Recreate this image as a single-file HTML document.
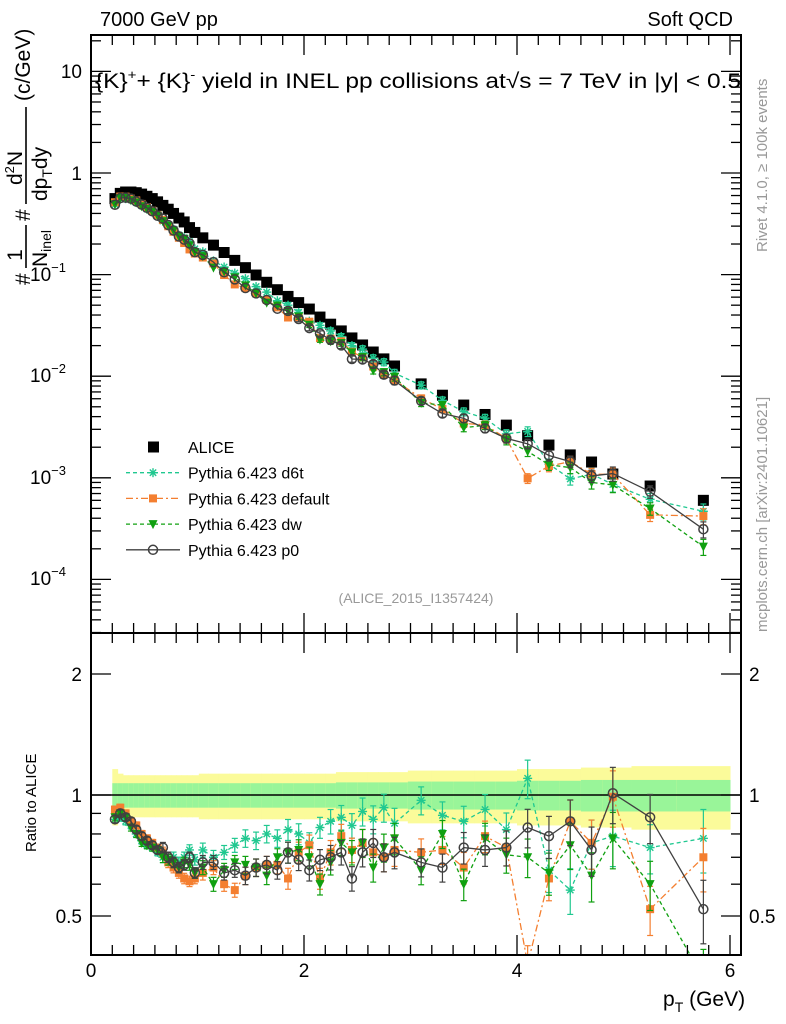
<!DOCTYPE html>
<html><head><meta charset="utf-8"><style>
body{margin:0;background:#fff}
svg{display:block;font-family:"Liberation Sans",sans-serif}
</style></head><body>
<svg id="c" width="786" height="1024" viewBox="0 0 786 1024"></svg>
<script>
const xs=[0.225,0.275,0.325,0.375,0.425,0.475,0.525,0.575,0.625,0.675,0.725,0.775,0.825,0.875,0.925,0.975,
1.05,1.15,1.25,1.35,1.45,1.55,1.65,1.75,1.85,1.95,2.05,2.15,2.25,2.35,2.45,2.55,2.65,2.75,2.85,
3.1,3.3,3.5,3.7,3.9,4.1,4.3,4.5,4.7,4.9,5.25,5.75];
const alice=[0.56,0.63,0.65,0.65,0.64,0.62,0.59,0.56,0.52,0.48,0.44,0.40,0.36,0.33,0.29,0.26,
0.23,0.195,0.165,0.138,0.117,0.099,0.084,0.071,0.061,0.053,0.0458,0.0382,0.0325,0.0279,0.0238,0.0203,0.0173,0.0148,0.0126,
0.0084,0.0065,0.0052,0.0042,0.0033,0.0026,0.0021,0.00168,0.00143,0.00109,0.00083,0.00060];
const rD6t=[0.87,0.88,0.86,0.84,0.80,0.77,0.75,0.74,0.72,0.70,0.69,0.70,0.68,0.70,0.73,0.69,
0.73,0.70,0.72,0.75,0.78,0.77,0.80,0.78,0.82,0.80,0.76,0.83,0.86,0.88,0.84,0.91,0.87,0.93,0.85,
0.97,0.89,0.86,0.92,0.82,1.10,0.65,0.58,0.76,0.79,0.74,0.78];
const rDef=[0.92,0.93,0.90,0.86,0.84,0.80,0.78,0.76,0.74,0.72,0.68,0.66,0.64,0.62,0.61,0.62,
0.64,0.66,0.60,0.58,0.63,0.66,0.67,0.67,0.62,0.72,0.75,0.62,0.72,0.79,0.73,0.76,0.72,0.70,0.73,
0.72,0.73,0.66,0.79,0.74,0.38,0.62,0.86,0.76,0.99,0.52,0.70];
const rDw=[0.88,0.90,0.88,0.83,0.80,0.76,0.75,0.74,0.73,0.70,0.69,0.68,0.66,0.68,0.67,0.64,
0.66,0.60,0.65,0.68,0.67,0.66,0.63,0.70,0.72,0.73,0.70,0.60,0.68,0.76,0.72,0.76,0.66,0.74,0.78,
0.65,0.80,0.60,0.78,0.71,0.70,0.64,0.75,0.63,0.78,0.60,0.35];
const rP0=[0.87,0.90,0.88,0.86,0.82,0.79,0.77,0.75,0.73,0.74,0.70,0.68,0.66,0.67,0.70,0.64,
0.68,0.68,0.64,0.65,0.63,0.66,0.67,0.65,0.72,0.69,0.65,0.69,0.70,0.72,0.62,0.72,0.76,0.70,0.72,
0.68,0.66,0.74,0.73,0.74,0.83,0.79,0.86,0.73,1.01,0.88,0.52];
const errRel=[0.02,0.02,0.02,0.02,0.02,0.02,0.02,0.02,0.02,0.03,0.03,0.03,0.03,0.03,0.03,0.03,
0.04,0.04,0.04,0.04,0.05,0.05,0.05,0.05,0.06,0.06,0.06,0.06,0.07,0.07,0.07,0.08,0.08,0.08,0.09,
0.08,0.08,0.09,0.09,0.1,0.11,0.12,0.13,0.14,0.16,0.14,0.18];
const bandG=[0.07,0.07,0.07,0.07,0.07,0.07,0.07,0.07,0.07,0.07,0.07,0.07,0.07,0.07,0.07,0.07,
0.07,0.07,0.07,0.07,0.07,0.07,0.07,0.07,0.07,0.07,0.07,0.07,0.07,0.075,0.075,0.075,0.075,0.075,0.075,
0.08,0.08,0.08,0.08,0.08,0.085,0.085,0.085,0.09,0.09,0.09,0.09];
const bandY=[0.16,0.13,0.12,0.12,0.12,0.12,0.12,0.12,0.12,0.12,0.12,0.12,0.12,0.12,0.12,0.12,
0.13,0.13,0.13,0.13,0.13,0.13,0.13,0.13,0.13,0.13,0.13,0.13,0.13,0.14,0.14,0.14,0.14,0.14,0.14,
0.15,0.15,0.15,0.15,0.15,0.16,0.16,0.16,0.17,0.17,0.18,0.18];

const NS="http://www.w3.org/2000/svg",svg=document.getElementById('c');
function el(t,a,p){const e=document.createElementNS(NS,t);for(const k in a)e.setAttribute(k,a[k]);(p||svg).appendChild(e);return e;}
const X0=91,X1=741,PX=106.5;
const sx=v=>X0+v*PX;
const sy=v=>173-Math.log10(v)*101.6;
const ry=v=>795-Math.log10(v)*402;
const T1=35,B1=633,B2=955;

const defs=el('defs',{});
const c1=el('clipPath',{id:'cm'},defs);el('rect',{x:X0,y:T1,width:X1-X0,height:B1-T1},c1);
const c2=el('clipPath',{id:'cr'},defs);el('rect',{x:X0,y:B1,width:X1-X0,height:B2-B1},c2);

const gb=el('g',{'clip-path':'url(#cr)'});


for(let i=0;i<xs.length;i++){
 const l=i==0?0.2:(xs[i-1]+xs[i])/2, r=i==xs.length-1?6.0:(xs[i]+xs[i+1])/2;
 el('rect',{x:sx(l),y:ry(1+bandY[i]),width:sx(r)-sx(l)+0.5,height:ry(1-bandY[i])-ry(1+bandY[i]),fill:'#fbfb9a'},gb);
 el('rect',{x:sx(l),y:ry(1+bandG[i]),width:sx(r)-sx(l)+0.5,height:ry(1-bandG[i])-ry(1+bandG[i]),fill:'#99f599'},gb);
}
el('line',{x1:X0,x2:X1,y1:ry(1),y2:ry(1),stroke:'#000','stroke-width':1.5});

const series=[
 {n:'d6t',r:rD6t,c:'#20c890',dash:'4,3',m:'star'},
 {n:'default',r:rDef,c:'#f47f30',dash:'7,3,2,3',m:'sq'},
 {n:'dw',r:rDw,c:'#10a010',dash:'4,3',m:'tri'},
 {n:'p0',r:rP0,c:'#404040',dash:'',m:'circ'}];

function marker(g,m,x,y,c){
 if(m=='sq')el('rect',{x:x-4,y:y-4,width:8,height:8,fill:c},g);
 else if(m=='tri')el('path',{d:`M${x-4.5},${y-4}L${x+4.5},${y-4}L${x},${y+5}Z`,fill:c},g);
 else if(m=='circ')el('circle',{cx:x,cy:y,r:4.5,fill:'none',stroke:c,'stroke-width':1.5},g);
 else{for(const a of [0,45,90,135]){const t=a*Math.PI/180;el('line',{x1:x-4.5*Math.cos(t),y1:y-4.5*Math.sin(t),x2:x+4.5*Math.cos(t),y2:y+4.5*Math.sin(t),stroke:c,'stroke-width':1.4},g);}}
}
function ebar(g,x,y1,y2,c){el('line',{x1:x,x2:x,y1:y1,y2:y2,stroke:c,'stroke-width':1.2},g);
 el('line',{x1:x-3,x2:x+3,y1:y1,y2:y1,stroke:c,'stroke-width':1.2},g);el('line',{x1:x-3,x2:x+3,y1:y2,y2:y2,stroke:c,'stroke-width':1.2},g);}

const ga=el('g',{'clip-path':'url(#cm)'});


xs.forEach((x,i)=>el('rect',{x:sx(x)-5.5,y:sy(alice[i])-5.5,width:11,height:11,fill:'#000'},ga));

series.forEach(s=>{
 const g=el('g',{'clip-path':'url(#cm)'});
 
 
 const pts=xs.map((x,i)=>[sx(x),sy(alice[i]*s.r[i])]);
 el('polyline',{points:pts.map(p=>p.join(',')).join(' '),fill:'none',stroke:s.c,'stroke-width':1.3,'stroke-dasharray':s.dash},g);
 xs.forEach((x,i)=>{if(errRel[i]>0.05){const v=alice[i]*s.r[i];ebar(g,sx(x),sy(v*(1+errRel[i])),sy(v*(1-errRel[i])),s.c);}});
 pts.forEach(p=>marker(g,s.m,p[0],p[1],s.c));
 const g2=el('g',{'clip-path':'url(#cr)'});
 
 
 const p2=xs.map((x,i)=>[sx(x),ry(s.r[i])]);
 el('polyline',{points:p2.map(p=>p.join(',')).join(' '),fill:'none',stroke:s.c,'stroke-width':1.3,'stroke-dasharray':s.dash},g2);
 xs.forEach((x,i)=>{const v=s.r[i];ebar(g2,sx(x),ry(v*(1+errRel[i])),ry(v*(1-errRel[i])),s.c);});
 p2.forEach(p=>marker(g2,s.m,p[0],p[1],s.c));
});

el('rect',{x:X0,y:T1,width:X1-X0,height:B1-T1,fill:'none',stroke:'#000','stroke-width':2});
el('rect',{x:X0,y:B1,width:X1-X0,height:B2-B1,fill:'none',stroke:'#000','stroke-width':2});

const ticks=el('g',{stroke:'#000','stroke-width':1.3});
for(let d=-5;d<=1;d++){for(let k=1;k<10;k++){const v=k*Math.pow(10,d),y=sy(v);if(y<T1||y>B1)continue;const L=k==1?20:10;
 el('line',{x1:X0,x2:X0+L,y1:y,y2:y},ticks);el('line',{x1:X1-L,x2:X1,y1:y,y2:y},ticks);}}
const ylab=[['10',71],['1',173],['10','274','−1'],['10','375','−2'],['10','477','−3'],['10','578','−4']];
ylab.forEach(l=>{const t=el('text',{x:l[2]?66:82,y:+l[1]+7,'font-size':19,'text-anchor':'end'});t.textContent=l[0];
 if(l[2]){const s=el('tspan',{'font-size':13,dy:-9},t);s.textContent=l[2];}
 });
for(let v=0;v<=6.1;v+=0.2){const x=sx(v),maj=Math.abs(v/2-Math.round(v/2))<0.01,L=maj?20:10;
 el('line',{x1:x,x2:x,y1:B1-L,y2:B1},ticks);el('line',{x1:x,x2:x,y1:T1,y2:T1+L},ticks);
 el('line',{x1:x,x2:x,y1:B2-L,y2:B2},ticks);el('line',{x1:x,x2:x,y1:B1,y2:B1+L},ticks);}
[0,2,4,6].forEach(v=>{const t=el('text',{x:sx(v),y:977,'font-size':19,'text-anchor':'middle'});t.textContent=v;
 });
[0.4,0.5,0.6,0.7,0.8,0.9,1,2].forEach(v=>{const y=ry(v),L=(v==1||v==2||v==0.5)?20:10;
 el('line',{x1:X0,x2:X0+L,y1:y,y2:y},ticks);el('line',{x1:X1-L,x2:X1,y1:y,y2:y},ticks);});
[['2',2],['1',1],['0.5',0.5]].forEach(l=>{
 const t=el('text',{x:82,y:ry(l[1])+7,'font-size':19,'text-anchor':'end'});t.textContent=l[0];
 
 const t2=el('text',{x:749,y:ry(l[1])+7,'font-size':19,fill:'#000'});t2.textContent=l[0];
 });

const leg=[['ALICE','#000','','bigsq'],['Pythia 6.423 d6t','#20c890','4,3','star'],['Pythia 6.423 default','#f47f30','7,3,2,3','sq'],['Pythia 6.423 dw','#10a010','4,3','tri'],['Pythia 6.423 p0','#404040','','circ']];
leg.forEach((l,i)=>{const y=447+i*25.7;const g=el('g',{});
 
 if(l[3]=='bigsq')el('rect',{x:148,y:y-5.5,width:11,height:11,fill:'#000'},g);
 else{el('line',{x1:126,x2:180,y1:y,y2:y,stroke:l[1],'stroke-width':1.3,'stroke-dasharray':l[2]},g);marker(g,l[3],153,y,l[1]);}
 const t=el('text',{x:188,y:y+6,'font-size':16},g);t.textContent=l[0];});
</script>
<svg style="position:absolute;left:0;top:0" width="786" height="1024">
<g font-family="Liberation Sans, sans-serif">
<text x="100" y="26" font-size="20">7000 GeV pp</text>
<text x="733" y="26" font-size="20" text-anchor="end">Soft QCD</text>
<text x="95" y="88" font-size="21" textLength="646" lengthAdjust="spacingAndGlyphs">{K}<tspan font-size="13" dy="-9">+</tspan><tspan dy="9">+ {K}</tspan><tspan font-size="13" dy="-9">-</tspan><tspan dy="9"> yield in INEL pp collisions at√s =  7 TeV in |y| &lt; 0.5</tspan></text>
<text x="416" y="603" font-size="14" fill="#999" text-anchor="middle">(ALICE_2015_I1357424)</text>
<text transform="translate(767,252) rotate(-90)" font-size="15" fill="#999">Rivet 4.1.0, ≥ 100k events</text>
<text transform="translate(767,632) rotate(-90)" font-size="15" fill="#999">mcplots.cern.ch [arXiv:2401.10621]</text>
<g transform="translate(0,285) rotate(-90)" font-size="21">
 <text x="0" y="30">#</text>
 <text x="30" y="22" text-anchor="middle">1</text>
 <line x1="17" x2="60" y1="26" y2="26" stroke="#000" stroke-width="1.6"/>
 <text x="18" y="47">N<tspan font-size="14" dy="4">inel</tspan></text>
 <text x="64" y="30">#</text>
 <text x="100" y="22">d<tspan font-size="13" dy="-8">2</tspan><tspan dy="8">N</tspan></text>
 <line x1="81" x2="178" y1="26" y2="26" stroke="#000" stroke-width="1.6"/>
 <text x="84" y="47">dp<tspan font-size="14" dy="5">T</tspan><tspan dy="-5">dy</tspan></text>
 <text x="184" y="30">(c/GeV)</text>
</g>
<text transform="translate(36,852) rotate(-90)" font-size="15">Ratio to ALICE</text>
<text x="663" y="1006" font-size="21">p<tspan font-size="14" dy="6">T</tspan><tspan dy="-6"> (GeV)</tspan></text>
</g>
</svg>
</body></html>
